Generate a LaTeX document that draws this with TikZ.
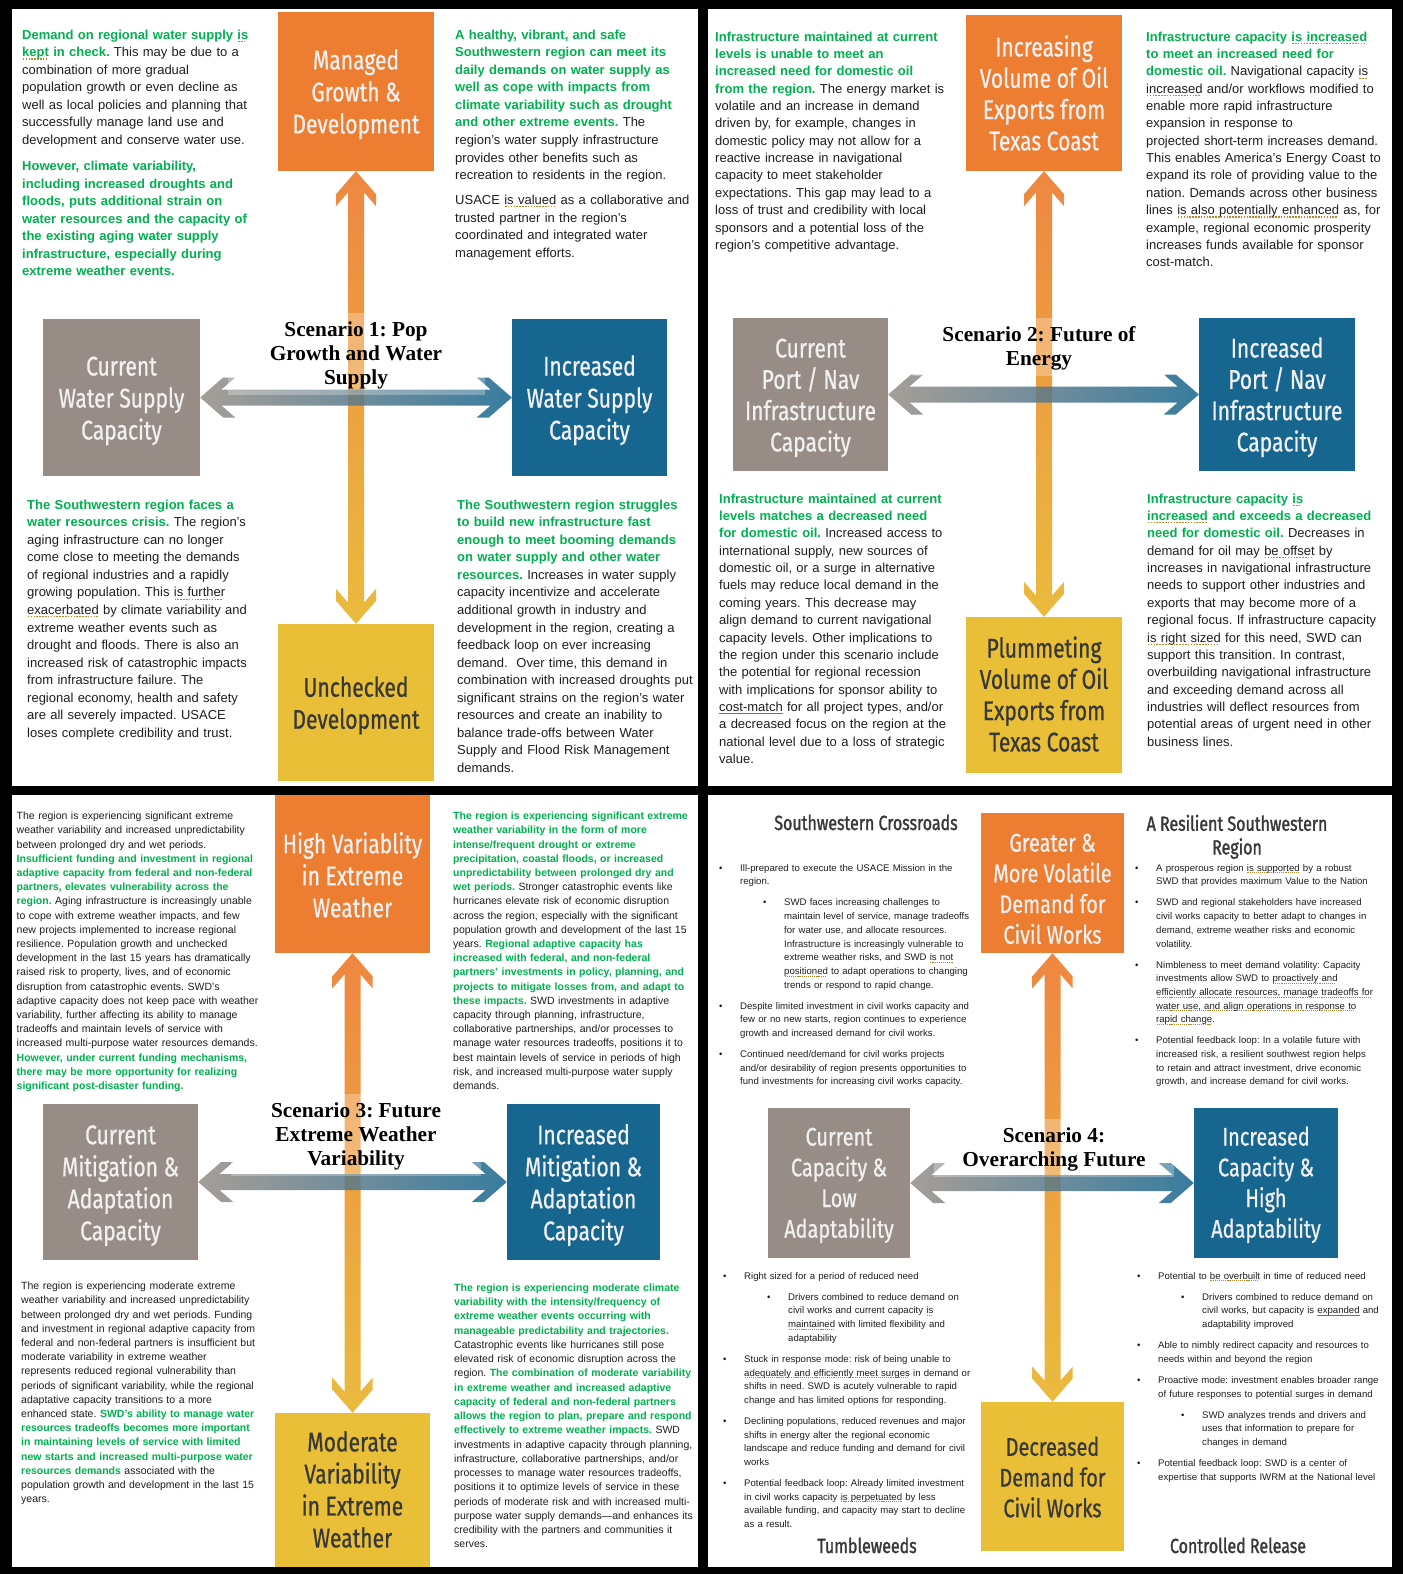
\documentclass[tikz,border=0pt]{standalone}
\usepackage{fontspec}
\setmainfont{Liberation Sans}
\newfontfamily\titlefont{Liberation Serif}
\newfontfamily\condfont[FakeStretch=0.78,FakeBold=0.7]{Fira Sans}
\newfontfamily\headfont[FakeStretch=0.78,FakeBold=1.4]{Fira Sans}
\usetikzlibrary{calc}
\frenchspacing

\definecolor{grn}{HTML}{00B050}
\definecolor{ink}{HTML}{1E1E1E}
\definecolor{boxorange}{HTML}{ED7D31}
\definecolor{boxgray}{HTML}{978D86}
\definecolor{boxblue}{HTML}{17668F}
\definecolor{boxyellow}{HTML}{E8BF36}
\definecolor{arrowyellow}{HTML}{E9B62E}
\definecolor{headgray}{HTML}{383838}
\definecolor{gramcol}{HTML}{B8862B}
\definecolor{gramblue}{HTML}{4A72D8}

\newcommand\gtext[1]{\leavevmode{\bfseries\color{grn}#1}}
% proofing marks under words: dotted (grammar) and solid blue
\newsavebox\grambox
\newcommand\gram[1]{\leavevmode\sbox\grambox{#1}\rlap{\textcolor{gramcol}{\leaders\hbox to 0.22em{\hss\rule[-0.22em]{0.12em}{0.09em}\hss}\hskip\wd\grambox}}\usebox\grambox}
\newcommand\gramb[1]{\leavevmode\sbox\grambox{#1}\rlap{\textcolor{gramblue}{\rule[-0.2em]{\wd\grambox}{0.07em}}}\usebox\grambox}
\newcommand\bulA{\makebox[21pt][l]{\textbullet}}
\newcommand\contA{\hspace*{21pt}}
\newcommand\bulB{\hspace*{44pt}\makebox[21pt][l]{\textbullet}}
\newcommand\contB{\hspace*{65pt}}

% double-headed chevron arrow between a box and the box below it
\newcommand\vconnect[2]{%
  \shade[top color=boxorange, bottom color=arrowyellow, fill opacity=.92]
    let \p1=(#1.south), \p2=(#2.north) in
    (\x1,\y1) -- ({\x1+20pt},{\y1-23pt}) -- ({\x1+20pt},{\y1-35pt}) -- ({\x1+8pt},{\y1-21.2pt})
    -- ({\x1+8pt},{\y2+21.2pt}) -- ({\x1+20pt},{\y2+35pt}) -- ({\x1+20pt},{\y2+23pt}) -- (\x1,\y2)
    -- ({\x1-20pt},{\y2+23pt}) -- ({\x1-20pt},{\y2+35pt}) -- ({\x1-8pt},{\y2+21.2pt})
    -- ({\x1-8pt},{\y1-21.2pt}) -- ({\x1-20pt},{\y1-35pt}) -- ({\x1-20pt},{\y1-23pt}) -- cycle;}
% double-headed chevron arrow between a box and the box to its right
\newcommand\hconnect[2]{%
  \shade[left color=boxgray, right color=boxblue, fill opacity=.85]
    let \p1=(#1.east), \p2=(#2.west) in
    (\x1,\y1) -- ({\x1+23pt},{\y1+20pt}) -- ({\x1+35pt},{\y1+20pt}) -- ({\x1+21.2pt},{\y1+8pt})
    -- ({\x2-21.2pt},{\y1+8pt}) -- ({\x2-35pt},{\y1+20pt}) -- ({\x2-23pt},{\y1+20pt}) -- (\x2,\y1)
    -- ({\x2-23pt},{\y1-20pt}) -- ({\x2-35pt},{\y1-20pt}) -- ({\x2-21.2pt},{\y1-8pt})
    -- ({\x1+21.2pt},{\y1-8pt}) -- ({\x1+35pt},{\y1-20pt}) -- ({\x1+23pt},{\y1-20pt}) -- cycle;}

\tikzset{
  txtA/.style={anchor=north west, inner sep=0pt, align=left, text width=300pt, text=ink,
               font=\fontsize{13}{17.55}\selectfont},
  txtB/.style={txtA, font=\fontsize{13}{17.35}\selectfont},
  txtC/.style={txtA, font=\fontsize{10.5}{14.2}\selectfont},
  txtD/.style={txtA, font=\fontsize{9.6}{13.7}\selectfont},
  box/.style={inner sep=0pt},
  boxtxt/.style={anchor=north, inner sep=0pt, align=center, text=white!94!black,
                 font=\condfont\fontsize{27}{32}\selectfont},
  boxtxtB/.style={boxtxt, font=\condfont\fontsize{27}{31.3}\selectfont},
  boxtxtS/.style={boxtxt, font=\condfont\fontsize{25.5}{30.7}\selectfont},
  darktxt/.style={text=headgray},
  title/.style={anchor=north, align=center, text=black, fill=white, fill opacity=.28,
                text opacity=1, inner sep=6pt, font=\titlefont\bfseries\fontsize{21.3}{24}\selectfont},
  head/.style={inner sep=0pt, align=center, text=headgray, font=\headfont\fontsize{20.5}{22}\selectfont}
}

\begin{document}
\begin{tikzpicture}[x=1pt,y=-1pt]
\useasboundingbox (0,0) rectangle (1403,1574);
\fill[black] (0,0) rectangle (1403,1574);
\fill[white] (12,9) rectangle (698,786);
\fill[white] (708,9) rectangle (1392,786);
\fill[white] (12,795) rectangle (698,1567);
\fill[white] (708,795) rectangle (1392,1567);

% ---------------- Scenario 1 ----------------
\node[box, fill=boxorange, minimum width=156, minimum height=159] (p1up) at (356,91.5) {};
\node[box, fill=boxyellow, minimum width=156, minimum height=157] (p1down) at (356,702.5) {};
\node[box, fill=boxgray, minimum width=157, minimum height=157] (p1left) at (121.5,397.5) {};
\node[box, fill=boxblue, minimum width=155, minimum height=157] (p1right) at (589.5,397.5) {};
\node[boxtxt] (p1upT) at (356,46.8) {\strut Managed\\Growth \&\\Development};
\node[boxtxt, darktxt] (p1downT) at (356,674.1) {\strut Unchecked\\Development};
\node[boxtxt] (p1leftT) at (121.5,352.9) {\strut Current\\Water Supply\\Capacity};
\node[boxtxt] (p1rightT) at (589.5,352.9) {\strut Increased\\Water Supply\\Capacity};
\vconnect{p1up}{p1down}
\hconnect{p1left}{p1right}
\node[title, minimum width=257] (p1title) at (356,313) {\strut Scenario 1: Pop\\Growth and Water\\Supply};

\node[txtA] (p1tl) at (22,26.7) {\strut\gtext{Demand on regional water supply \gram{is}}\\
\gtext{\gram{kept} in check.} This may be due to a\\
combination of more gradual\\
population growth or even decline as\\
well as local policies and planning that\\
successfully manage land use and\\
development and conserve water use.\\[8.5pt]
\gtext{However, climate variability,}\\
\gtext{including increased droughts and}\\
\gtext{floods, puts additional strain on}\\
\gtext{water resources and the capacity of}\\
\gtext{the existing aging water supply}\\
\gtext{infrastructure, especially during}\\
\gtext{extreme weather events.}};

\node[txtA] (p1tr) at (455,26.7) {\strut\gtext{A healthy, vibrant, and safe}\\
\gtext{Southwestern region can meet its}\\
\gtext{daily demands on water supply as}\\
\gtext{well as cope with impacts from}\\
\gtext{climate variability such as drought}\\
\gtext{and other extreme events.} The\\
region's water supply infrastructure\\
provides other benefits such as\\
recreation to residents in the region.\\[7.5pt]
USACE \gram{is valued} as a collaborative and\\
trusted partner in the region's\\
coordinated and integrated water\\
management efforts.};

\node[txtA] (p1bl) at (27,496.7) {\strut\gtext{The Southwestern region faces a}\\
\gtext{water resources crisis.} The region's\\
aging infrastructure can no longer\\
come close to meeting the demands\\
of regional industries and a rapidly\\
growing population. This \gram{is further}\\
\gram{exacerbated} by climate variability and\\
extreme weather events such as\\
drought and floods. There is also an\\
increased risk of catastrophic impacts\\
from infrastructure failure. The\\
regional economy, health and safety\\
are all severely impacted. USACE\\
loses complete credibility and trust.};

\node[txtA] (p1br) at (457,496.7) {\strut\gtext{The Southwestern region struggles}\\
\gtext{to build new infrastructure fast}\\
\gtext{enough to meet booming demands}\\
\gtext{on water supply and other water}\\
\gtext{resources.} Increases in water supply\\
capacity incentivize and accelerate\\
additional growth in industry and\\
development in the region, creating a\\
feedback loop on ever increasing\\
demand.~ Over time, this demand in\\
combination with increased droughts put\\
significant strains on the region's water\\
resources and create an inability to\\
balance trade-offs between Water\\
Supply and Flood Risk Management\\
demands.};

% ---------------- Scenario 2 ----------------
\node[box, fill=boxorange, minimum width=156, minimum height=156] (p2up) at (1044,93) {};
\node[box, fill=boxyellow, minimum width=156, minimum height=156] (p2down) at (1044,695) {};
\node[box, fill=boxgray, minimum width=155, minimum height=153] (p2left) at (810.5,394.5) {};
\node[box, fill=boxblue, minimum width=156, minimum height=153] (p2right) at (1277,394.5) {};
\node[boxtxtB] (p2upT) at (1044,34.3) {\strut Increasing\\Volume of Oil\\Exports from\\Texas Coast};
\node[boxtxtB, darktxt] (p2downT) at (1044,635.4) {\strut Plummeting\\Volume of Oil\\Exports from\\Texas Coast};
\node[boxtxtB] (p2leftT) at (810.5,335.4) {\strut Current\\Port / Nav\\Infrastructure\\Capacity};
\node[boxtxtB] (p2rightT) at (1277,335.4) {\strut Increased\\Port / Nav\\Infrastructure\\Capacity};
\vconnect{p2up}{p2down}
\hconnect{p2left}{p2right}
\node[title, minimum width=253] (p2title) at (1039,318) {\strut Scenario 2: Future of\\Energy};

\node[txtB] (p2tl) at (715,28.85) {\strut\gtext{Infrastructure maintained at current}\\
\gtext{levels is unable to meet an}\\
\gtext{increased need for domestic oil}\\
\gtext{from the region.} The energy market is\\
volatile and an increase in demand\\
driven by, for example, changes in\\
domestic policy may not allow for a\\
reactive increase in navigational\\
capacity to meet stakeholder\\
expectations. This gap may lead to a\\
loss of trust and credibility with local\\
sponsors and a potential loss of the\\
region's competitive advantage.};

\node[txtB] (p2tr) at (1146,28.85) {\strut\gtext{Infrastructure capacity \gram{is increased}}\\
\gtext{to meet an increased need for}\\
\gtext{domestic oil.} Navigational capacity \gram{is}\\
\gram{increased} and/or workflows modified to\\
enable more rapid infrastructure\\
expansion in response to\\
projected short-term increases demand.\\
This enables America's Energy Coast to\\
expand its role of providing value to the\\
nation. Demands across other business\\
lines \gram{is also potentially enhanced} as, for\\
example, regional economic prosperity\\
increases funds available for sponsor\\
cost-match.};

\node[txtB] (p2bl) at (719,490.85) {\strut\gtext{Infrastructure maintained at current}\\
\gtext{levels matches a decreased need}\\
\gtext{for domestic oil.} Increased access to\\
international supply, new sources of\\
domestic oil, or a surge in alternative\\
fuels may reduce local demand in the\\
coming years. This decrease may\\
align demand to current navigational\\
capacity levels. Other implications to\\
the region under this scenario include\\
the potential for regional recession\\
with implications for sponsor ability to\\
\gramb{cost-match} for all project types, and/or\\
a decreased focus on the region at the\\
national level due to a loss of strategic\\
value.};

\node[txtB] (p2br) at (1147,490.85) {\strut\gtext{Infrastructure capacity \gram{is}}\\
\gtext{\gram{increased} and exceeds a decreased}\\
\gtext{need for domestic oil.} Decreases in\\
demand for oil may \gram{be offset} by\\
increases in navigational infrastructure\\
needs to support other industries and\\
exports that may become more of a\\
regional focus. If infrastructure capacity\\
\gram{is right sized} for this need, SWD can\\
support this transition. In contrast,\\
overbuilding navigational infrastructure\\
and exceeding demand across all\\
industries will deflect resources from\\
potential areas of urgent need in other\\
business lines.};

% ---------------- Scenario 3 ----------------
\node[box, fill=boxorange, minimum width=155, minimum height=158] (p3up) at (352.5,874) {};
\node[box, fill=boxyellow, minimum width=155, minimum height=154] (p3down) at (352.5,1490) {};
\node[box, fill=boxgray, minimum width=155, minimum height=156] (p3left) at (120.5,1182) {};
\node[box, fill=boxblue, minimum width=153, minimum height=156] (p3right) at (583.5,1182) {};
\node[boxtxt] (p3upT) at (352.5,830.6) {\strut High Variablity\\in Extreme\\Weather};
\node[boxtxt, darktxt] (p3downT) at (352.5,1428.8) {\strut Moderate\\Variability\\in Extreme\\Weather};
\node[boxtxt] (p3leftT) at (120.5,1121.6) {\strut Current\\Mitigation \&\\Adaptation\\Capacity};
\node[boxtxt] (p3rightT) at (583.5,1121.6) {\strut Increased\\Mitigation \&\\Adaptation\\Capacity};
\vconnect{p3up}{p3down}
\hconnect{p3left}{p3right}
\node[title, minimum width=250] (p3title) at (356,1094) {\strut Scenario 3: Future\\Extreme Weather\\Variability};

\node[txtC] (p3tl) at (16.5,809.6) {\strut The region is experiencing significant extreme\\
weather variability and increased unpredictability\\
between prolonged dry and wet periods.\\
\gtext{Insufficient funding and investment in regional}\\
\gtext{adaptive capacity from federal and non-federal}\\
\gtext{partners, elevates vulnerability across the}\\
\gtext{region.} Aging infrastructure is increasingly unable\\
to cope with extreme weather impacts, and few\\
new projects implemented to increase regional\\
resilience. Population growth and unchecked\\
development in the last 15 years has dramatically\\
raised risk to property, lives, and of economic\\
disruption from catastrophic events. SWD's\\
adaptive capacity does not keep pace with weather\\
variability, further affecting its ability to manage\\
tradeoffs and maintain levels of service with\\
increased multi-purpose water resources demands.\\
\gtext{However, under current funding mechanisms,}\\
\gtext{there may be more opportunity for realizing}\\
\gtext{significant post-disaster funding.}};

\node[txtC] (p3tr) at (453,809.6) {\strut\gtext{The region is experiencing significant extreme}\\
\gtext{weather variability in the form of more}\\
\gtext{intense/frequent drought or extreme}\\
\gtext{precipitation, coastal floods, or increased}\\
\gtext{unpredictability between prolonged dry and}\\
\gtext{wet periods.} Stronger catastrophic events like\\
hurricanes elevate risk of economic disruption\\
across the region, especially with the significant\\
population growth and development of the last 15\\
years. \gtext{Regional adaptive capacity has}\\
\gtext{increased with federal, and non-federal}\\
\gtext{partners' investments in policy, planning, and}\\
\gtext{projects to mitigate losses from, and adapt to}\\
\gtext{these impacts.} SWD investments in adaptive\\
capacity through planning, infrastructure,\\
collaborative partnerships, and/or processes to\\
manage water resources tradeoffs, positions it to\\
best maintain levels of service in periods of high\\
risk, and increased multi-purpose water supply\\
demands.};

\node[txtC] (p3bl) at (21,1279.6) {\strut The region is experiencing moderate extreme\\
weather variability and increased unpredictability\\
between prolonged dry and wet periods. Funding\\
and investment in regional adaptive capacity from\\
federal and non-federal partners is insufficient but\\
moderate variability in extreme weather\\
represents reduced regional vulnerability than\\
periods of significant variability, while the regional\\
adaptative capacity transitions to a more\\
enhanced state. \gtext{SWD's ability to manage water}\\
\gtext{resources tradeoffs becomes more important}\\
\gtext{in maintaining levels of service with limited}\\
\gtext{new starts and increased multi-purpose water}\\
\gtext{resources demands} associated with the\\
population growth and development in the last 15\\
years.};

\node[txtC, font=\fontsize{10.5}{14.26}\selectfont] (p3br) at (454,1281.1) {\strut\gtext{The region is experiencing moderate climate}\\
\gtext{variability with the intensity/frequency of}\\
\gtext{extreme weather events occurring with}\\
\gtext{manageable predictability and trajectories.}\\
Catastrophic events like hurricanes still pose\\
elevated risk of economic disruption across the\\
region. \gtext{The combination of moderate variability}\\
\gtext{in extreme weather and increased adaptive}\\
\gtext{capacity of federal and non-federal partners}\\
\gtext{allows the region to plan, prepare and respond}\\
\gtext{effectively to extreme weather impacts.} SWD\\
investments in adaptive capacity through planning,\\
infrastructure, collaborative partnerships, and/or\\
processes to manage water resources tradeoffs,\\
positions it to optimize levels of service in these\\
periods of moderate risk and with increased multi-\\
purpose water supply demands---and enhances its\\
credibility with the partners and communities it\\
serves.};

% ---------------- Scenario 4 ----------------
\node[box, fill=boxorange, minimum width=143, minimum height=140] (p4up) at (1052.5,883) {};
\node[box, fill=boxyellow, minimum width=143, minimum height=149] (p4down) at (1052.5,1476.5) {};
\node[box, fill=boxgray, minimum width=142, minimum height=150] (p4left) at (839,1183) {};
\node[box, fill=boxblue, minimum width=144, minimum height=150] (p4right) at (1266,1183) {};
\node[boxtxtS] (p4upT) at (1052.5,829.9) {\strut Greater \&\\More Volatile\\Demand for\\Civil Works};
\node[boxtxtS, darktxt] (p4downT) at (1052.5,1434.1) {\strut Decreased\\Demand for\\Civil Works};
\node[boxtxtS] (p4leftT) at (839,1123.9) {\strut Current\\Capacity \&\\Low\\Adaptability};
\node[boxtxtS] (p4rightT) at (1266,1123.9) {\strut Increased\\Capacity \&\\High\\Adaptability};
\vconnect{p4up}{p4down}
\hconnect{p4left}{p4right}
\node[title, minimum width=240] (p4title) at (1054,1119) {\strut Scenario 4:\\Overarching Future};

\node[head, anchor=base] (h4a) at (866,830) {Southwestern Crossroads};
\node[head, anchor=north] (h4b) at (1237,814.6) {\strut A Resilient Southwestern\\Region};
\node[head, anchor=base] (h4c) at (867,1553) {Tumbleweeds};
\node[head, anchor=base] (h4d) at (1238,1553) {Controlled Release};

\node[txtD] (p4tl) at (719,861.4) {\strut\bulA Ill-prepared to execute the USACE Mission in the\\
\contA region.\\[7.3pt]
\bulB SWD faces increasing challenges to\\
\contB maintain level of service, manage tradeoffs\\
\contB for water use, and allocate resources.\\
\contB Infrastructure is increasingly vulnerable to\\
\contB extreme weather risks, and SWD \gram{is not}\\
\contB \gram{positioned} to adapt operations to changing\\
\contB trends or respond to rapid change.\\[7.3pt]
\bulA Despite limited investment in civil works capacity and\\
\contA few or no new starts, region continues to experience\\
\contA growth and increased demand for civil works.\\[7.3pt]
\bulA Continued need/demand for civil works projects\\
\contA and/or desirability of region presents opportunities to\\
\contA fund investments for increasing civil works capacity.};

\node[txtD] (p4tr) at (1135,861.4) {\strut\bulA A prosperous region \gram{is supported} by a robust\\
\contA SWD that provides maximum Value to the Nation\\[7.3pt]
\bulA SWD and regional stakeholders have increased\\
\contA civil works capacity to better adapt to changes in\\
\contA demand, extreme weather risks and economic\\
\contA volatility.\\[7.3pt]
\bulA Nimbleness to meet demand volatility: Capacity\\
\contA investments allow SWD to \gram{proactively and}\\
\contA \gram{efficiently allocate resources, manage tradeoffs for}\\
\contA \gram{water use, and align operations in response to}\\
\contA \gram{rapid change}.\\[7.3pt]
\bulA Potential feedback loop: In a volatile future with\\
\contA increased risk, a resilient southwest region helps\\
\contA to retain and attract investment, drive economic\\
\contA growth, and increase demand for civil works.};

\node[txtD] (p4bl) at (723,1269.4) {\strut\bulA Right sized for a period of reduced need\\[7.3pt]
\bulB Drivers combined to reduce demand on\\
\contB civil works and current capacity \gram{is}\\
\contB \gram{maintained} with limited flexibility and\\
\contB adaptability\\[7.3pt]
\bulA Stuck in response mode: risk of being unable to\\
\contA \gram{adequately and efficiently meet surges} in demand or\\
\contA shifts in need. SWD is acutely vulnerable to rapid\\
\contA change and has limited options for responding.\\[7.3pt]
\bulA Declining populations, reduced revenues and major\\
\contA shifts in energy alter the regional economic\\
\contA landscape and reduce funding and demand for civil\\
\contA works\\[7.3pt]
\bulA Potential feedback loop: Already limited investment\\
\contA in civil works capacity \gram{is perpetuated} by less\\
\contA available funding, and capacity may start to decline\\
\contA as a result.};

\node[txtD] (p4br) at (1137,1269.4) {\strut\bulA Potential to \gram{be overbuilt} in time of reduced need\\[7.3pt]
\bulB Drivers combined to reduce demand on\\
\contB civil works, but capacity is \gramb{expanded} and\\
\contB adaptability improved\\[7.3pt]
\bulA Able to nimbly redirect capacity and resources to\\
\contA needs within and beyond the region\\[7.3pt]
\bulA Proactive mode: investment enables broader range\\
\contA of future responses to potential surges in demand\\[7.3pt]
\bulB SWD analyzes trends and drivers and\\
\contB uses that information to prepare for\\
\contB changes in demand\\[7.3pt]
\bulA Potential feedback loop: SWD is a center of\\
\contA expertise that supports IWRM at the National level};
\end{tikzpicture}
\end{document}
